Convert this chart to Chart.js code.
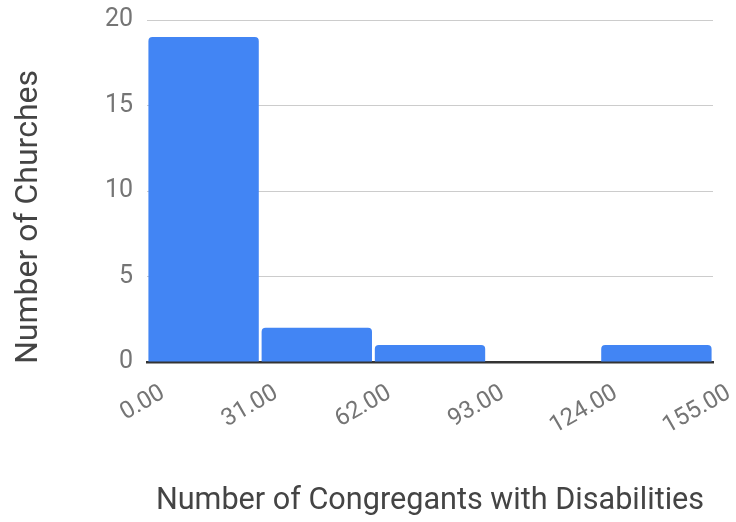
<!DOCTYPE html>
<html>
<head>
<meta charset="utf-8">
<script src="https://cdn.jsdelivr.net/npm/chart.js@4/dist/chart.umd.min.js"></script>
<style>
  html, body { margin: 0; padding: 0; background: #fff; }
  #wrap { width: 736px; height: 522px; }
</style>
</head>
<body>
<div id="wrap"><canvas id="chart" width="736" height="522"></canvas></div>
<script>
// Histogram bins: edges and church counts per bin
const binEdges = [0, 31, 62, 93, 124, 155];
const tickLabels = ['0.00', '31.00', '62.00', '93.00', '124.00', '155.00'];
const churchCounts = [19, 2, 1, 0, 1];
const yTicks = [0, 5, 10, 15, 20];
const xTitle = 'Number of Congregants with Disabilities';
const yTitle = 'Number of Churches';

const bars = churchCounts.map((c, i) => ({ x: (binEdges[i] + binEdges[i + 1]) / 2, y: c }));

// Axis titles drawn relative to the plot area
const axisTitles = {
  id: 'axisTitles',
  afterDraw(chart) {
    const { ctx, chartArea } = chart;
    ctx.save();
    ctx.fillStyle = '#444444';
    ctx.textAlign = 'center';
    ctx.textBaseline = 'alphabetic';
    ctx.font = '30.6px Roboto';
    ctx.fillText(xTitle, (chartArea.left + chartArea.right) / 2, 509);
    ctx.font = '32px Roboto';
    ctx.translate(37, 217);
    ctx.rotate(-Math.PI / 2);
    ctx.fillText(yTitle, 0, 0);
    ctx.restore();
  }
};

new Chart(document.getElementById('chart'), {
  type: 'bar',
  data: {
    datasets: [{
      data: bars,
      backgroundColor: '#4285f4',
      borderWidth: 0,
      borderRadius: 4,
      barPercentage: 0.975,
      categoryPercentage: 1
    }]
  },
  options: {
    responsive: false,
    animation: false,
    layout: { padding: { top: 20, right: 23, bottom: 0, left: 0 } },
    plugins: { legend: { display: false }, tooltip: { enabled: false } },
    scales: {
      x: {
        type: 'linear',
        min: binEdges[0],
        max: binEdges[binEdges.length - 1],
        offset: false,
        afterBuildTicks(scale) { scale.ticks = binEdges.map(v => ({ value: v })); },
        afterFit(scale) {
          scale.height = 160;
          scale.paddingLeft = 0;
          scale.paddingRight = 0;
        },
        grid: { display: false, drawTicks: false },
        border: { display: true, color: '#333333', width: 2.5 },
        ticks: {
          autoSkip: false,
          minRotation: 30,
          maxRotation: 30,
          labelOffset: 16,
          padding: 17,
          color: '#757575',
          font: { family: 'Roboto', size: 24 },
          callback: (v) => tickLabels[binEdges.indexOf(v)]
        }
      },
      y: {
        min: 0,
        max: 20,
        afterBuildTicks(scale) { scale.ticks = yTicks.map(v => ({ value: v })); },
        afterFit(scale) {
          scale.width = 147;
          scale.paddingTop = 0;
          scale.paddingBottom = 0;
        },
        grid: {
          color: (ctx) => (ctx.tick && ctx.tick.value === 0 ? 'rgba(0,0,0,0)' : '#cccccc'),
          lineWidth: 1,
          drawTicks: false
        },
        border: { display: false },
        ticks: {
          padding: 14,
          color: '#757575',
          font: { family: 'Roboto', size: 25 }
        }
      }
    }
  },
  plugins: [axisTitles]
});
</script>
</body>
</html>
